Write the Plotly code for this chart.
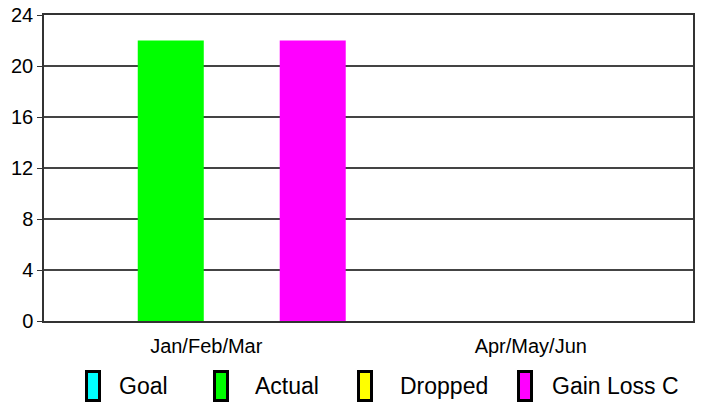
import plotly.graph_objects as go

categories = ["Jan/Feb/Mar", "Apr/May/Jun"]
series_names = ["Goal", "Actual", "Dropped", "Gain Loss C"]
goal = [0, 0]
actual = [22, 0]
dropped = [0, 0]
gain_loss = [22, 0]
series_values = [goal, actual, dropped, gain_loss]
colors = ["#00FFFF", "#00FF00", "#FFFF00", "#FF00FF"]
y_ticks = [0, 4, 8, 12, 16, 20, 24]

W, H = 703, 404
L, R, T, B = 44, 10, 15, 83
PW, PH = W - L - R, H - T - B

def px_x(p):
    return (p - L) / PW

def px_y(p):
    return (H - B - p) / PH

fig = go.Figure()
for name, vals, col in zip(series_names, series_values, colors):
    fig.add_trace(go.Bar(x=categories, y=vals, name=name, marker=dict(color=col, line=dict(width=0)),
                         showlegend=False))

font = "Arial, Liberation Sans, sans-serif"

# custom legend (tall rectangular swatches)
sym_x = [85, 213, 357, 517]
txt_x = [117, 253, 398, 550]
shapes = []
annotations = []
for name, col, sx, tx in zip(series_names, colors, sym_x, txt_x):
    shapes.append(dict(type="rect", xref="paper", yref="paper",
                       x0=px_x(sx + 1.5), x1=px_x(sx + 14.5), y0=px_y(400.5), y1=px_y(371.5),
                       fillcolor=col, line=dict(color="black", width=3)))
    annotations.append(dict(text=name, xref="paper", yref="paper", x=px_x(tx), y=px_y(386),
                            xanchor="left", yanchor="middle", showarrow=False,
                            font=dict(family=font, size=23, color="black")))

fig.update_layout(
    width=W, height=H,
    margin=dict(l=L, r=R, t=T, b=B, autoexpand=False),
    paper_bgcolor="white", plot_bgcolor="white",
    barmode="group", bargap=0.125, bargroupgap=0.07,
    shapes=shapes, annotations=annotations,
    font=dict(family=font, color="black"),
)
fig.update_xaxes(showline=True, linecolor="#333333", linewidth=1.5, mirror=True, automargin=False,
                 ticks="", showgrid=False, tickfont=dict(size=20, family=font, color="black"),
                 ticklabelstandoff=6)
fig.update_yaxes(range=[0, 24], tickvals=y_ticks, showline=True, linecolor="#333333", linewidth=1.5,
                 mirror=True, ticks="outside", ticklen=5, tickcolor="#333333", automargin=False,
                 ticklabeloverflow="allow",
                 showgrid=True, gridcolor="#444444", gridwidth=1.5,
                 tickfont=dict(size=20, family=font, color="black"), zeroline=False)

fig.write_html("out.html", config={"displayModeBar": False},
               post_script="document.body.style.margin='0px';")
